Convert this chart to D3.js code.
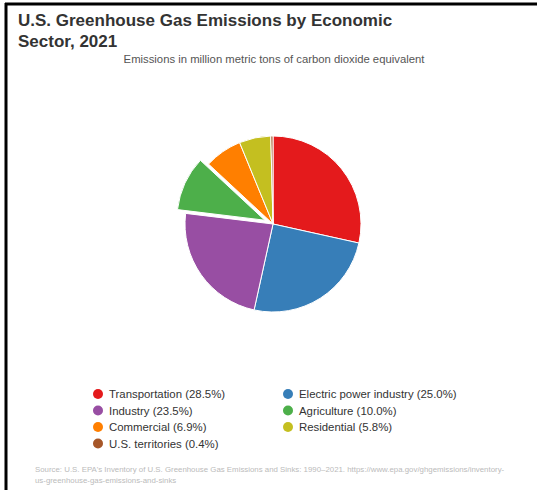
<!DOCTYPE html>
<html>
<head>
<meta charset="utf-8">
<script src="https://cdn.jsdelivr.net/npm/d3@7"></script>
<style>
  html, body { margin: 0; padding: 0; background: #fff; }
  svg { display: block; font-family: "Liberation Sans", Arial, sans-serif; }
</style>
</head>
<body>
<svg id="chart" width="537" height="490"></svg>
<script>
// Sector shares of 2021 U.S. greenhouse gas emissions (percent)
const sectors = ["Transportation", "Electric power industry", "Industry", "Agriculture",
                 "Commercial", "Residential", "U.S. territories"];
const shares = [28.5, 25.0, 23.5, 10.0, 6.9, 5.8, 0.4];
const colors = ["#e41a1c", "#377eb8", "#984ea3", "#4daf4a", "#ff7f00", "#c4bf20", "#a65628"];
const exploded = ["Agriculture"];

const svg = d3.select("#chart");

// frame lines
svg.append("line").attr("x1", 5).attr("x2", 537).attr("y1", 4).attr("y2", 4)
  .attr("stroke", "#000").attr("stroke-width", 3);
svg.append("line").attr("x1", 6).attr("x2", 6).attr("y1", 3).attr("y2", 490)
  .attr("stroke", "#000").attr("stroke-width", 3);

// titles
const title = svg.append("text").attr("x", 18).attr("fill", "#333")
  .attr("font-size", 17).attr("font-weight", "bold");
title.append("tspan").attr("x", 18).attr("y", 26).text("U.S. Greenhouse Gas Emissions by Economic");
title.append("tspan").attr("x", 18).attr("y", 47).text("Sector, 2021");

svg.append("text").attr("x", 274).attr("y", 63).attr("text-anchor", "middle")
  .attr("fill", "#555").attr("font-size", 11.3)
  .text("Emissions in million metric tons of carbon dioxide equivalent");

// pie
const data = sectors.map((s, i) => ({ name: s, value: shares[i], color: colors[i] }));
const cx = 273, cy = 224, r = 88;
const pie = d3.pie().value(d => d.value).sort(null);
const arc = d3.arc().innerRadius(0).outerRadius(r);
const g = svg.append("g").attr("transform", `translate(${cx},${cy})`);
g.selectAll("path").data(pie(data)).join("path")
  .attr("d", arc)
  .attr("fill", d => d.data.color)
  .attr("stroke", "#fff").attr("stroke-width", 1)
  .attr("transform", d => {
    if (!exploded.includes(d.data.name)) return null;
    const a = (d.startAngle + d.endAngle) / 2;
    const off = 9;
    return `translate(${Math.sin(a) * off},${-Math.cos(a) * off})`;
  });

// legend
const cols = [98, 288];
const rowY = [394, 410.5, 427, 443.5];
const lg = svg.append("g");
data.forEach((d, i) => {
  const x = cols[i % 2], y = rowY[Math.floor(i / 2)];
  lg.append("circle").attr("cx", x).attr("cy", y).attr("r", 5).attr("fill", d.color);
  lg.append("text").attr("x", x + 11).attr("y", y + 4).attr("font-size", 11.4)
    .attr("fill", "#333").text(`${d.name} (${d.value.toFixed(1)}%)`);
});

// source note
const src = svg.append("text").attr("fill", "#bbb").attr("font-size", 7.85);
src.append("tspan").attr("x", 35).attr("y", 472)
  .text("Source: U.S. EPA's Inventory of U.S. Greenhouse Gas Emissions and Sinks: 1990–2021. https://www.epa.gov/ghgemissions/inventory-");
src.append("tspan").attr("x", 35).attr("y", 483).text("us-greenhouse-gas-emissions-and-sinks");
</script>
</body>
</html>
